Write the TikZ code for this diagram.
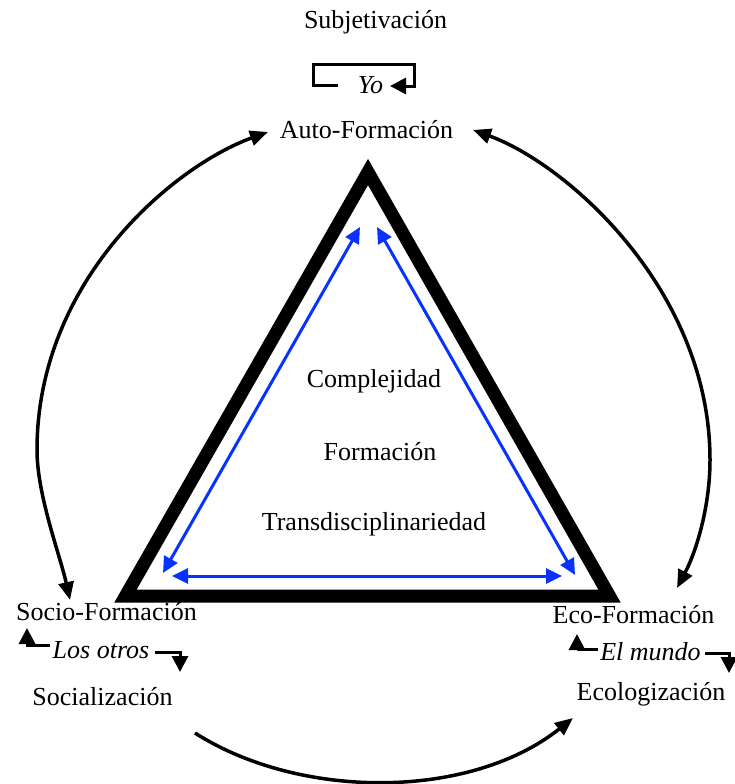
\documentclass[tikz,border=0pt]{standalone}
\usepackage{fontspec}
\setmainfont{Liberation Serif}
\usetikzlibrary{arrows.meta}
\definecolor{arrblue}{RGB}{10,50,255}
\tikzset{
  lbl/.style={anchor=base,inner sep=0pt,font=\fontsize{26}{30}\selectfont},
  ilbl/.style={lbl,font=\fontsize{26}{30}\selectfont\itshape},
  bigarrow/.style={line width=3.5pt,-{Triangle[length=18pt,width=15pt]}},
  bigarrows/.style={line width=3.5pt,{Triangle[length=18pt,width=15pt]}-{Triangle[length=18pt,width=15pt]}},
  loop/.style={line width=3pt,-{Triangle[length=16pt,width=16pt]}},
  bluearrow/.style={arrblue,line width=3pt,{Triangle[length=16pt,width=15pt]}-{Triangle[length=16pt,width=15pt]}},
  frame/.style={line width=13pt,line join=miter}
}
\begin{document}
\begin{tikzpicture}[x=1pt,y=-1pt]
\useasboundingbox (0,0) rectangle (735,784);
% texts
\node[lbl] (subj) at (375.5,29) {Subjetivación};
\node[ilbl] (yo) at (370.5,93) {Yo};
\node[lbl] (auto) at (366.5,138) {Auto-Formación};
\node[lbl] (comp) at (374,387) {Complejidad};
\node[lbl] (form) at (380,460) {Formación};
\node[lbl] (trans) at (374,530) {Transdisciplinariedad};
\node[lbl] (socio) at (106.5,620) {Socio-Formación};
\node[ilbl] (otros) at (101,658) {Los otros};
\node[lbl] (social) at (102.5,705) {Socialización};
\node[lbl] (eco) at (633.5,623) {Eco-Formación};
\node[ilbl] (mundo) at (650.5,660) {El mundo};
\node[lbl] (ecolog) at (651,700) {Ecologización};
% triangle
\coordinate (tA) at (368,172);
\coordinate (tL) at (125.5,596);
\coordinate (tR) at (609.5,596);
\draw[frame] (tL) -- (tA) -- (tR) -- cycle;
% blue arrows
\coordinate (bAL) at (360,227);
\coordinate (bAR) at (377,227);
\coordinate (bL1) at (163,573);
\coordinate (bL2) at (172,576);
\coordinate (bR1) at (575,575);
\coordinate (bR2) at (562,576);
\draw[bluearrow] (bAL) -- (bL1);
\draw[bluearrow] (bAR) -- (bR1);
\draw[bluearrow] (bL2) -- (bR2);
% big arcs
\coordinate (aTL) at (268,132);
\coordinate (aBL) at (70,600);
\coordinate (aTR) at (473,130);
\coordinate (aBR) at (677,588);
\coordinate (aS) at (195,733);
\coordinate (aE) at (573,718);
\draw[bigarrows] (aTL) .. controls (174,166) and (37,280) .. (37,450)
  .. controls (37,495) and (60,555) .. (aBL);
\draw[bigarrows] (aTR) .. controls (567,164) and (710,290) .. (710,460)
  .. controls (710,505) and (697,550) .. (aBR);
\draw[bigarrow] (aS) .. controls (300,800) and (470,800) .. (aE);
% Yo loop
\coordinate (y1) at (338,85);
\coordinate (y2) at (390,86);
\draw[loop] (y1) -- (313,85) -- (313,65) -- (414,65) -- (414,86) -- (y2);
% Los otros
\coordinate (o1) at (50,645);
\coordinate (o2) at (27,628);
\coordinate (o3) at (155,652);
\coordinate (o4) at (180,672);
\draw[loop] (o1) -| (o2);
\draw[loop] (o3) -| (o4);
% El mundo
\coordinate (m1) at (598,649);
\coordinate (m2) at (577,634);
\coordinate (m3) at (705,653);
\coordinate (m4) at (729,673);
\draw[loop] (m1) -| (m2);
\draw[loop] (m3) -| (m4);
\end{tikzpicture}
\end{document}
